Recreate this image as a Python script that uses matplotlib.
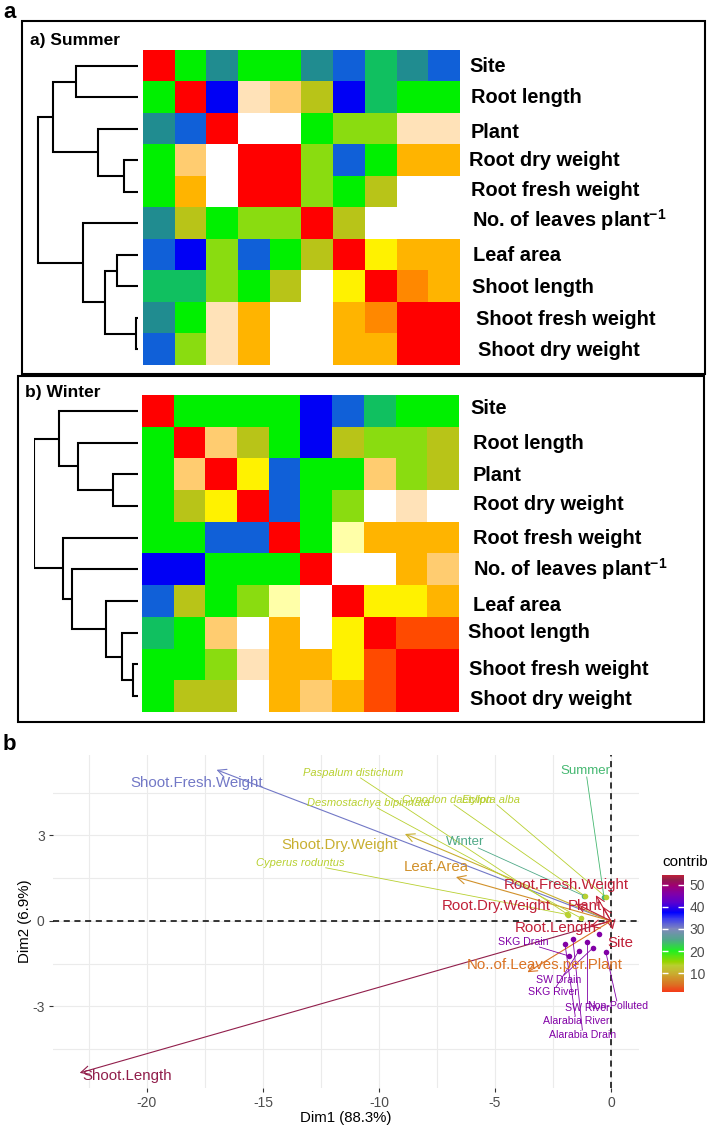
import numpy as np
import matplotlib
matplotlib.use('Agg')
import matplotlib.pyplot as plt
from matplotlib.colors import ListedColormap, LinearSegmentedColormap, Normalize
from matplotlib.patches import Rectangle
from matplotlib.cm import ScalarMappable

plt.rcParams['font.family'] = ['Liberation Sans', 'DejaVu Sans']
plt.rcParams['axes.unicode_minus'] = False
plt.rcParams['mathtext.fontset'] = 'custom'
plt.rcParams['mathtext.rm'] = 'Liberation Sans'
plt.rcParams['mathtext.bf'] = 'Liberation Sans:bold'
plt.rcParams['mathtext.it'] = 'Liberation Sans:italic'

# ------------------------------------------------------------------ data
traits = ['Site', 'Root length', 'Plant', 'Root dry weight', 'Root fresh weight',
          r'No. of leaves plant$^{\mathbf{-1}}$', 'Leaf area', 'Shoot length',
          'Shoot fresh weight', 'Shoot dry weight']

# colour classes of the correlation heatmaps, low -> high
level_codes = ['B', 'Bm', 'T', 'GT', 'G', 'YG', 'Ol', 'Y', 'LY', 'W', 'P', 'LO', 'O', 'DO', 'Or', 'R']
level_colors = ['#0000F5', '#1060D8', '#208C90', '#10C060', '#00F000', '#8ADC10', '#B8C418',
                '#FFF200', '#FFFFA8', '#FFFFFF', '#FFE2B8', '#FFCC70', '#FFB400', '#FF8800',
                '#FF4A00', '#FF0000']

summer_rows = [
    'R  G  T  G  G  T  Bm GT T  Bm',
    'G  R  B  P  LO Ol B  GT G  G',
    'T  Bm R  W  W  G  YG YG P  P',
    'G  LO W  R  R  YG Bm G  O  O',
    'G  O  W  R  R  YG G  Ol W  W',
    'T  Ol G  YG YG R  Ol W  W  W',
    'Bm B  YG Bm G  Ol R  Y  O  O',
    'GT GT YG G  Ol W  Y  R  DO O',
    'T  G  P  O  W  W  O  DO R  R',
    'Bm YG P  O  W  W  O  O  R  R',
]
winter_rows = [
    'R  G  G  G  G  B  Bm GT G  G',
    'G  R  LO Ol G  B  Ol YG YG Ol',
    'G  LO R  Y  Bm G  G  LO YG Ol',
    'G  Ol Y  R  Bm G  YG W  P  W',
    'G  G  Bm Bm R  G  LY O  O  O',
    'B  B  G  G  G  R  W  W  O  LO',
    'Bm Ol G  YG LY W  R  Y  Y  O',
    'GT G  LO W  O  W  Y  R  Or Or',
    'G  G  YG P  O  O  Y  Or R  R',
    'G  Ol Ol W  O  LO O  Or R  R',
]

# dendrogram linkages (leaf indices in display order, new cluster = 10 + k)
summer_linkage = [(8, 9, 2), (3, 4, 14), (6, 7, 21), (12, 10, 33), (2, 11, 40),
                  (5, 13, 55), (0, 1, 62), (16, 14, 85), (17, 15, 100)]
winter_linkage = [(8, 9, 5), (7, 10, 16), (2, 3, 25), (6, 11, 32), (1, 12, 60),
                  (5, 13, 66), (4, 15, 75), (0, 14, 79), (17, 16, 104)]

# PCA biplot: variables
var_names = ['Shoot.Length', 'Shoot.Fresh.Weight', 'Shoot.Dry.Weight', 'Leaf.Area',
             'Root.Fresh.Weight', 'Root.Dry.Weight', 'Plant', 'Root.Length', 'Site',
             'No..of.Leaves.per.Plant']
var_x = [-22.9, -17.0, -8.88, -6.68, -0.65, -1.5, -0.35, -0.9, 0.08, -3.6]
var_y = [-5.33, 5.30, 3.05, 1.54, 0.90, 0.60, 0.50, -0.20, -0.30, -1.80]
var_contrib = [52.5, 31, 10, 7.5, 54.5, 54.5, 54.5, 54.5, 54.5, 5]
var_label_x = [-20.86, -17.84, -11.68, -7.54, -1.94, -4.96, -1.12, -2.37, 0.39, -2.84]
var_label_y = [-5.44, 4.84, 2.67, 1.89, 1.26, 0.53, 0.53, -0.25, -0.77, -1.54]

# PCA biplot: individuals
ind_names = ['Summer', 'Winter', 'Paspalum distichum', 'Desmostachya bipinnata',
             'Cynodon dactylon', 'Eclipta alba', 'Cyperus roduntus', 'SKG Drain',
             'SW Drain', 'SKG River', 'SW River', 'Non-Polluted', 'Alarabia River',
             'Alarabia Drain', '']
ind_x = [-0.30, -1.16, -1.90, -1.29, -1.10, -0.22, -1.85, -1.81, -0.78, -1.38, -1.03,
         -0.22, -1.98, -1.64, -0.52]
ind_y = [0.84, 0.88, 0.25, 0.10, 0.86, 0.84, 0.22, -1.23, -0.95, -1.05, -0.74,
         -1.09, -0.81, -0.63, -0.46]
ind_contrib = [24, 25, 13.5, 13.5, 13.5, 13.5, 13.5, 46, 46, 46, 46, 46, 46, 46, 46]
ind_label_x = [-1.08, -6.29, -11.12, -10.47, -7.07, -5.17, -13.41, -3.79, -2.24, -2.50,
               -1.03, 0.30, -1.51, -1.21, np.nan]
ind_label_y = [5.26, 2.77, 5.19, 4.14, 4.25, 4.25, 2.04, -0.74, -2.07, -2.49, -3.05,
               -2.98, -3.51, -4.00, np.nan]
ind_italic = [False, False, True, True, True, True, True, False, False, False, False,
              False, False, False, False]

x_ticks = [-20, -15, -10, -5, 0]
y_ticks = [-3, 0, 3]
cbar_ticks = [10, 20, 30, 40, 50]
contrib_range = (1.4, 54.5)

# ------------------------------------------------------------------ layout helpers
W, H = 708, 1131
fig = plt.figure(figsize=(W / 100, H / 100), dpi=100)


def rect(x0, y0, x1, y1):
    return [x0 / W, 1 - y1 / H, (x1 - x0) / W, (y1 - y0) / H]


def box(x0, y0, x1, y1, lw=1.5):
    fig.add_artist(Rectangle((x0 / W, 1 - y1 / H), (x1 - x0) / W, (y1 - y0) / H,
                             transform=fig.transFigure, fill=False, lw=lw, ec='black'))


def ftext(x, y, s, **kw):
    fig.text(x / W, 1 - y / H, s, **kw)


level_cmap = ListedColormap(level_colors)
code_index = {c: i for i, c in enumerate(level_codes)}


def draw_heatmap(r, rows, label_dx, label_dy):
    ax = fig.add_axes(rect(*r))
    mat = np.array([[code_index[c] for c in row.split()] for row in rows])
    ax.imshow(mat, cmap=level_cmap, vmin=-0.5, vmax=len(level_codes) - 0.5,
              aspect='auto', interpolation='nearest')
    ax.set_axis_off()
    for i, name in enumerate(traits):
        ax.annotate(name, xy=(1.0, i), xycoords=('axes fraction', 'data'),
                    xytext=(label_dx[i] * 0.72, -label_dy[i] * 0.72),
                    textcoords='offset points', ha='left', va='center',
                    fontsize=14.4, fontweight='bold')
    return ax


def draw_dendro(r, linkage, n=10, hmax=104):
    ax = fig.add_axes(rect(*r))
    pos = {i: (0.0, float(i)) for i in range(n)}
    for k, (a, b, h) in enumerate(linkage):
        ha, ya = pos[a]
        hb, yb = pos[b]
        ax.plot([ha, h, h, hb], [ya, ya, yb, yb], color='black', lw=1.5,
                solid_joinstyle='miter', solid_capstyle='butt')
        pos[n + k] = (h, (ya + yb) / 2)
    ax.set_xlim(hmax, 0)
    ax.set_ylim(n - 0.5, -0.5)
    ax.set_axis_off()
    return ax


# ------------------------------------------------------------------ panel a
ftext(3, 12, 'a', fontsize=16, fontweight='bold', ha='left', va='center')
box(22, 21, 705, 374)
box(18, 376, 704, 722)
ftext(30, 40, 'a) Summer', fontsize=12.5, fontweight='bold', ha='left', va='center')
ftext(25, 393, 'b) Winter', fontsize=12.5, fontweight='bold', ha='left', va='center')

draw_heatmap((143, 50, 459, 365), summer_rows,
             [10, 12, 12, 10, 12, 13, 14, 13, 17, 19],
             [1, 0, 4, 0, -1, -3, 1, 1, 2, 1])
draw_dendro((34, 50, 138, 365), summer_linkage)

draw_heatmap((142, 395, 459, 712), winter_rows,
             [11, 14, 14, 14, 14, 14, 14, 9, 10, 11],
             [-2, 1, 1, -1, 1, 0, 4, 0, 5, 3])
draw_dendro((34, 395, 138, 712), winter_linkage)

# ------------------------------------------------------------------ panel b
ftext(3, 745, 'b', fontsize=16, fontweight='bold', ha='left', va='center')

stops = [(1.4, '#F53A18'), (5, '#DA7424'), (10, '#C8B030'), (13.5, '#B8D030'),
         (15, '#98D400'), (20, '#20F020'), (25, '#50A888'), (30, '#8088BC'),
         (35, '#3838F0'), (37.5, '#0000FF'), (42, '#5A00D0'), (46, '#8000A8'),
         (50, '#A00070'), (52.5, '#8E1E4C'), (54.5, '#C02038')]
lo, hi = contrib_range
contrib_cmap = LinearSegmentedColormap.from_list(
    'contrib', [((v - lo) / (hi - lo), c) for v, c in stops], N=256)
cnorm = Normalize(lo, hi)

ax = fig.add_axes(rect(53, 755, 639, 1088))
ax.set_xlim(-24.05, 1.21)
ax.set_ylim(-5.86, 5.82)
ax.set_xticks(x_ticks)
ax.set_xticklabels([str(v) for v in x_ticks])
ax.set_yticks(y_ticks)
ax.set_yticklabels([str(v) for v in y_ticks])
ax.set_xticks([-22.5, -17.5, -12.5, -7.5, -2.5], minor=True)
ax.set_yticks([-4.5, -1.5, 1.5, 4.5], minor=True)
ax.grid(which='both', color='#EBEBEB', lw=0.8, zorder=0)
ax.set_axisbelow(True)
for s in ax.spines.values():
    s.set_visible(False)
ax.tick_params(which='major', length=3, width=0.8, color='#333333',
               labelcolor='#4D4D4D', labelsize=10, pad=3)
ax.tick_params(which='minor', length=0)
ax.axhline(0, color='black', ls=(0, (4, 3)), lw=1.1, zorder=1)
ax.axvline(0, color='black', ls=(0, (4, 3)), lw=1.1, zorder=1)
ax.set_xlabel('Dim1 (88.3%)', fontsize=10.8)
ax.set_ylabel('Dim2 (6.9%)', fontsize=10.8)
ax.xaxis.set_label_coords(0.5, (1088 - 1118) / 333)
ax.xaxis.label.set_va('center')
ax.yaxis.set_label_coords((25 - 53) / 586, 0.5)
ax.yaxis.label.set_va('center')

# variable arrows
for vx, vy, c in zip(var_x, var_y, var_contrib):
    ax.annotate('', xy=(vx, vy), xytext=(0, 0),
                arrowprops=dict(arrowstyle='->,head_length=0.6,head_width=0.3',
                                color=contrib_cmap(cnorm(c)), lw=0.8,
                                shrinkA=0, shrinkB=0), zorder=2)
for name, lx, ly, c in zip(var_names, var_label_x, var_label_y, var_contrib):
    ax.text(lx, ly, name, color=contrib_cmap(cnorm(c)), fontsize=10.8,
            ha='center', va='center', zorder=3)

# individuals: labels first to measure, then segments and points
ind_texts = []
for name, lx, ly, c, it in zip(ind_names, ind_label_x, ind_label_y, ind_contrib, ind_italic):
    if not name:
        ind_texts.append(None)
        continue
    if it:
        fs = 8
    elif name in ('Summer', 'Winter'):
        fs = 9.5
    else:
        fs = 7.6
    t = ax.text(lx, ly, name, color=contrib_cmap(cnorm(c)), fontsize=fs,
                fontstyle='italic' if it else 'normal', ha='center', va='center', zorder=4)
    ind_texts.append(t)

fig.canvas.draw()
renderer = fig.canvas.get_renderer()
inv = ax.transData.inverted()
for t, px_, py_, c in zip(ind_texts, ind_x, ind_y, ind_contrib):
    col = contrib_cmap(cnorm(c))
    if t is not None:
        bb = t.get_window_extent(renderer)
        (x0, y0), (x1, y1) = inv.transform([[bb.x0, bb.y0], [bb.x1, bb.y1]])
        cx, cy = (x0 + x1) / 2, (y0 + y1) / 2
        dx, dy = px_ - cx, py_ - cy
        hw, hh = (x1 - x0) / 2, (y1 - y0) / 2
        ts = []
        if dx != 0:
            ts.append(hw / abs(dx))
        if dy != 0:
            ts.append(hh / abs(dy))
        t0 = min(ts) if ts else 1
        if t0 < 1:
            ax.plot([cx + dx * t0, px_], [cy + dy * t0, py_], color=col, lw=0.6, zorder=2)
    ax.scatter([px_], [py_], s=16, color=col, zorder=3, linewidths=0)

# colour bar legend
cax = fig.add_axes(rect(662, 875, 684, 992))
cb = fig.colorbar(ScalarMappable(norm=cnorm, cmap=contrib_cmap), cax=cax)
cb.outline.set_visible(False)
cb.set_ticks(cbar_ticks)
cax.tick_params(axis='y', which='major', direction='in', length=4, width=1,
                colors='white', labelcolor='#4D4D4D', left=True, right=True,
                labelleft=False, labelright=True, labelsize=10, pad=4)
cax.tick_params(axis='y', which='minor', length=0)
ftext(662, 862, 'contrib', fontsize=11, ha='left', va='center')

fig.savefig('out.png', dpi=100)
